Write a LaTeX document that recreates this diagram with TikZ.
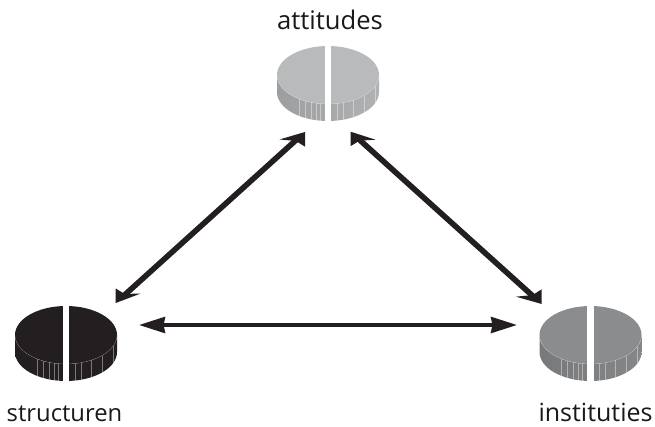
\documentclass[tikz,border=0pt]{standalone}
\usepackage{fontspec}
\setmainfont{Open Sans}
\usetikzlibrary{arrows.meta,calc}
\definecolor{attTop}{HTML}{B9BABC}
\definecolor{attSide}{HTML}{9C9EA0}
\definecolor{strTop}{HTML}{231F20}
\definecolor{strSide}{HTML}{231F20}
\definecolor{insTop}{HTML}{8A8C8E}
\definecolor{insSide}{HTML}{77797B}
\tikzset{
  lbl/.style={inner sep=0pt,font=\fontsize{25.6}{30}\selectfont,text=black!90,anchor=base},
  link/.style={line width=3.6pt,draw=strTop,
    {Stealth[length=26pt,width=16pt,inset=1.5pt]}-{Stealth[length=26pt,width=16pt,inset=1.5pt]}},
  diaglink/.style={line width=5.6pt,draw=strTop,shorten <=8pt,shorten >=8pt},
  headfill/.style={fill=strTop},
  rim/.style={draw=white,line width=0.25pt,opacity=0.4}
}
\newcommand{\drawdisc}[3]{%
  \begin{scope}[shift={(#1)}]
    \shade[left color=#3,right color=#2!70!#3] (-51,0) -- (-51,-17) arc[start angle=180,end angle=360,x radius=51,y radius=29] -- (51,0)
      arc[start angle=0,end angle=-180,x radius=51,y radius=29] -- cycle;
    \foreach \d in {-29,-23,-17,-12,-8,-3,9,15,25,36,47}{
      \pgfmathsetmacro{\yy}{29*sqrt(1-(\d/51)*(\d/51))}
      \draw[rim] (\d,-\yy) -- (\d,-\yy-17);
    }
    \fill[#2] (0,0) ellipse[x radius=51,y radius=29];
    \draw[rim] (-51,0) arc[start angle=180,end angle=360,x radius=51,y radius=29];
    \fill[white] (-3.2,-50) rectangle (3.2,32);
  \end{scope}}
\newcommand{\headat}[4]{\fill[headfill] (#1) -- ++(#2) -- ($(#1)+(#3)$) -- ($(#1)+(#4)$) -- cycle;}
\begin{document}
\begin{tikzpicture}[x=1pt,y=1pt]
  \useasboundingbox (0,0) rectangle (655,426);
  \drawdisc{328,351}{attTop}{attSide}
  \drawdisc{66,91}{strTop}{strSide}
  \drawdisc{590.5,91}{insTop}{insSide}
  \node[lbl] (attitudes) at (330,396) {attitudes};
  \node[lbl,font=\fontsize{23.8}{28}\selectfont] (structuren) at (64.5,5) {structuren};
  \node[lbl,font=\fontsize{25}{30}\selectfont] (instituties) at (595.5,5) {instituties};
  \coordinate (attL) at (305,294);
  \coordinate (attR) at (350.5,294.3);
  \coordinate (strT) at (115.7,123);
  \coordinate (strR) at (139,101);
  \coordinate (insT) at (541.7,122);
  \coordinate (insL) at (517,101);
  \draw[diaglink] (attL) -- (strT);
  \draw[diaglink] (attR) -- (insT);
  \headat{attL}{-25.5,-7.5}{-9,-9}{0,-14.7}
  \headat{strT}{25,9.5}{9,9}{0,14.5}
  \headat{attR}{25,-8}{9,-9}{0,-14.5}
  \headat{insT}{-25.7,7.3}{-9,9}{0,14.7}
  \draw[link] (strR) -- (insL);
\end{tikzpicture}
\end{document}
